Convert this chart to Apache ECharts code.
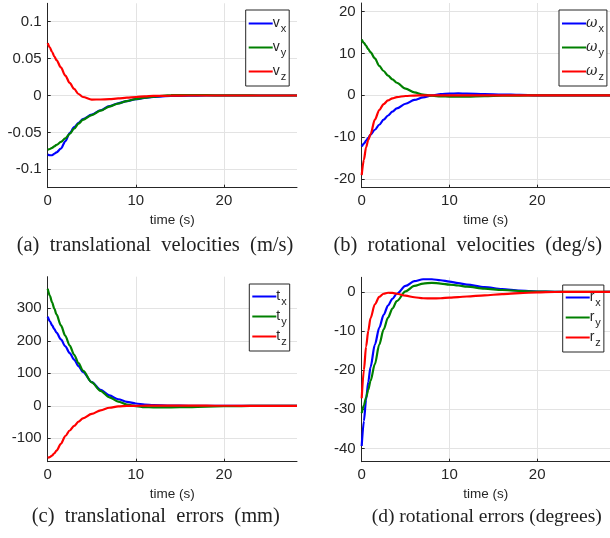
<!DOCTYPE html>
<html><head><meta charset="utf-8">
<script src="https://cdn.jsdelivr.net/npm/echarts@6/dist/echarts.min.js"></script>
<style>html,body{margin:0;padding:0;background:#fff}#c{width:610px;height:538px}</style>
</head><body><div id="c"></div>
<script>
// time samples (s)
var time = [0, 0.25, 0.5, 0.75, 1, 1.5, 2, 2.5, 3, 3.5, 4, 5, 6, 7, 8, 9, 10, 11, 12, 14, 16, 18, 20, 22, 24, 26, 28.3];
var xTicks = [0, 10, 20];
// (a) translational velocities (m/s)
var vx = [-0.080, -0.081, -0.081, -0.079, -0.077, -0.072, -0.062, -0.051, -0.043, -0.037, -0.032, -0.026, -0.020, -0.0145, -0.0105, -0.0075, -0.005, -0.0033, -0.002, -0.0007, -0.0002, 0, 0, 0, 0, 0, 0];
var vy = [-0.0735, -0.0725, -0.071, -0.069, -0.067, -0.063, -0.058, -0.052, -0.045, -0.038, -0.033, -0.0265, -0.0205, -0.015, -0.011, -0.0075, -0.0048, -0.003, -0.0015, 0.0004, 0.0006, 0.0004, 0.0002, 0.0001, 0, 0, 0];
var vz = [0.071, 0.065, 0.059, 0.053, 0.048, 0.038, 0.027, 0.017, 0.009, 0.002, -0.002, -0.0055, -0.0054, -0.005, -0.004, -0.003, -0.002, -0.0012, -0.0006, -0.0002, 0, 0, 0, 0, 0, 0, 0];
// (b) rotational velocities (deg/s)
var wx = [-12.2, -11.5, -10.8, -10.1, -9.4, -8.2, -7.0, -5.8, -4.8, -3.9, -3.1, -2.0, -1.1, -0.5, 0, 0.3, 0.4, 0.45, 0.4, 0.3, 0.2, 0.1, 0, 0, 0, 0, 0];
var wy = [13.3, 12.5, 11.8, 11.0, 10.3, 8.8, 7.0, 5.8, 4.7, 3.8, 3.0, 1.6, 0.7, 0.2, -0.1, -0.25, -0.3, -0.3, -0.3, -0.2, -0.1, -0.05, 0, 0, 0, 0, 0];
var wz = [-19.0, -15.3, -12.4, -10.6, -9.3, -5.8, -3.5, -2.1, -1.2, -0.7, -0.4, -0.15, -0.05, 0, 0, 0, 0, 0, 0, 0, 0, 0, 0, 0, 0, 0, 0];
// (c) translational errors (mm)
var tx = [274, 260, 247, 236, 225, 204, 183, 162, 142, 122, 104, 73, 49, 32, 20, 12, 7, 4, 2, 0.5, 0, 0, 0, 0, 0, 0, 0];
var ty = [360, 338, 318, 299, 281, 247, 215, 185, 157, 131, 108, 72, 46, 26, 13, 4, -1, -4, -5, -5, -4, -2.5, -1.5, -0.8, -0.4, -0.2, 0];
var tz = [-160, -158, -153, -146, -138, -117, -93, -76, -62, -49, -39, -25, -14, -6, -2, -0.5, 0, 0.3, 0.5, 0.5, 0.3, 0.2, 0.1, 0, 0, 0, 0];
// (d) rotational errors (degrees)
var rx = [-39.4, -33, -27.5, -23, -19.3, -13.5, -9.2, -5.9, -3.5, -1.8, -0.5, 1.5, 2.7, 3.2, 3.2, 2.95, 2.6, 2.2, 1.85, 1.2, 0.7, 0.3, 0.05, 0, 0, 0, 0];
var ry = [-31, -29, -27, -25, -22.8, -18.5, -13.5, -9.6, -6.6, -4.3, -2.4, 0.1, 1.5, 2.1, 2.3, 2.1, 1.85, 1.6, 1.3, 0.8, 0.45, 0.2, 0.05, 0, 0, 0, 0];
var rz = [-27.2, -20, -14, -10, -6.8, -3.2, -1.3, -0.5, -0.25, -0.3, -0.5, -1.0, -1.4, -1.65, -1.7, -1.65, -1.5, -1.35, -1.2, -0.9, -0.6, -0.35, -0.15, -0.05, 0, 0, 0];

var captions = ['(a)  translational  velocities  (m/s)', '(b)  rotational  velocities  (deg/s)', '(c)  translational  errors  (mm)', '(d) rotational errors (degrees)'];
var legendNames = [['v_x','v_y','v_z'], ['ω_x','ω_y','ω_z'], ['t_x','t_y','t_z'], ['r_x','r_y','r_z']];
var panelData = [[vx, vy, vz], [wx, wy, wz], [tx, ty, tz], [rx, ry, rz]];
var yRanges = [[-0.125, 0.125, 0.05], [-22, 22, 10], [-172, 397, 100], [-43.4, 3.7, 10]];
var colors = ['#0000ff', '#008000', '#ff0000'];

var TXT = '#262626';
var grids = [
  {left: 47.7, top: 3.3, width: 249.3, height: 184.4},
  {left: 361.7, top: 3, width: 249.3, height: 184.7},
  {left: 47.7, top: 276.7, width: 249.3, height: 185},
  {left: 361.7, top: 277.3, width: 249.3, height: 184.4}
];
var legendPos = [
  {left: 245.7, top: 10, w: 45, gap: 6.5, pad: [6.5, 3, 4, 3]},
  {left: 559, top: 10, w: 46, gap: 6.5, pad: [6.5, 3, 4, 3]},
  {left: 249.3, top: 284, w: 41.4, gap: 2.5, pad: [5.5, 3, 4, 3]},
  {left: 562.7, top: 285, w: 47.3, gap: 2.5, pad: [5.5, 3, 4, 3]}
];
var capPos = [[155, 245.7], [467.8, 246], [155.8, 516.7], [486.7, 516.7]];
var capSize = [20.5, 20.5, 20.5, 19.5];

var xAxes = [], yAxes = [], series = [], legends = [], graphics = [];
for (var p = 0; p < 4; p++) {
  xAxes.push({
    type: 'value', gridIndex: p, min: 0, max: 28.3, minInterval: 10, maxInterval: 10,
    name: 'time (s)', nameLocation: 'middle', nameGap: 26,
    nameTextStyle: {fontFamily: 'Liberation Sans', fontSize: 13.5, color: TXT},
    axisLine: {show: true, onZero: false, lineStyle: {color: TXT, width: 1}},
    axisTick: {show: true, inside: true, length: 3, lineStyle: {color: TXT}},
    axisLabel: {fontFamily: 'Liberation Sans', fontSize: 15, color: TXT, margin: 6, showMaxLabel: false},
    splitLine: {show: true, showMaxLine: false, showMinLine: false, lineStyle: {color: '#e3e3e3', width: 1}}
  });
  var yr = yRanges[p];
  yAxes.push({
    type: 'value', gridIndex: p, min: yr[0], max: yr[1], minInterval: yr[2], maxInterval: yr[2],
    axisLine: {show: true, onZero: false, lineStyle: {color: TXT, width: 1}},
    axisTick: {show: true, inside: true, length: 3, lineStyle: {color: TXT}},
    axisLabel: {fontFamily: 'Liberation Sans', fontSize: 15, color: TXT, margin: 6, showMinLabel: false, showMaxLabel: false},
    splitLine: {show: true, showMaxLine: false, showMinLine: false, lineStyle: {color: '#e3e3e3', width: 1}}
  });
  for (var s = 0; s < 3; s++) {
    var arr = panelData[p][s];
    series.push({
      type: 'line', name: legendNames[p][s], xAxisIndex: p, yAxisIndex: p,
      data: time.map(function (t, i) { return [t, arr[i]]; }),
      showSymbol: false, symbol: 'none', smooth: 0.3, smoothMonotone: 'x',
      lineStyle: {color: colors[s], width: 2.2}, itemStyle: {color: colors[s]},
      z: 3 + s, animation: false
    });
  }
  var lp = legendPos[p];
  legends.push({
    data: legendNames[p].map(function (n) { return {name: n, icon: 'rect'}; }),
    orient: 'vertical', left: lp.left, top: lp.top,
    width: lp.w, padding: lp.pad, itemGap: lp.gap,
    itemWidth: 24, itemHeight: 2, borderColor: TXT, borderWidth: 1, backgroundColor: '#fff',
    selectedMode: false,
    formatter: function (n) { var q = n.split('_'); return '{m|' + q[0] + '}{s|' + q[1] + '}'; },
    textStyle: {
      padding: [0, 0, 0, -5],
      rich: {
        m: {fontFamily: p === 1 ? 'DejaVu Serif' : 'Liberation Sans', fontStyle: p === 1 ? 'italic' : 'normal', fontSize: 14, color: TXT},
        s: {fontFamily: 'Liberation Sans', fontSize: 11, color: TXT, padding: [10, 0, 0, 1]}
      }
    }
  });
  graphics.push({
    type: 'text', x: capPos[p][0], y: capPos[p][1],
    style: {text: captions[p], x: 0, y: 0, textAlign: 'center', textVerticalAlign: 'middle',
      font: capSize[p] + 'px "Liberation Serif"', fill: '#222'}
  });
}

var chart = echarts.init(document.getElementById('c'), null, {renderer: 'canvas'});
chart.setOption({
  animation: false,
  grid: grids, xAxis: xAxes, yAxis: yAxes, series: series, legend: legends, graphic: graphics
});
</script>
</body></html>
